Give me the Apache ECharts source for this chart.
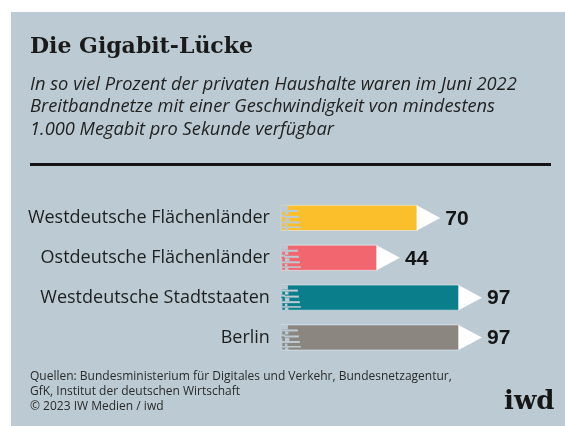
<!DOCTYPE html>
<html>
<head>
<meta charset="utf-8">
<script src="https://cdn.jsdelivr.net/npm/echarts@6/dist/echarts.min.js"></script>
<style>
  html, body { margin: 0; padding: 0; background: #ffffff; }
  #chart { width: 565px; height: 426px; }
</style>
</head>
<body>
<div id="chart"></div>
<script>
// Gigabit coverage of private households, June 2022 (percent)
const categories = [
  'Westdeutsche Flächenländer',
  'Ostdeutsche Flächenländer',
  'Westdeutsche Stadtstaaten',
  'Berlin'
];
const values = [70, 44, 97, 97];
const barColors = ['#fbbf2c', '#f1666f', '#0b7e8c', '#8b8680'];

const titleText = 'Die Gigabit-Lücke';
const subtitleLines = [
  'In so viel Prozent der privaten Haushalte waren im Juni 2022',
  'Breitbandnetze mit einer Geschwindigkeit von mindestens',
  '1.000 Megabit pro Sekunde verfügbar'
];
const sourceLines = [
  'Quellen: Bundesministerium für Digitales und Verkehr, Bundesnetzagentur,',
  'GfK, Institut der deutschen Wirtschaft',
  '© 2023 IW Medien / iwd'
];

const PANEL = '#bccbd3';
const X_MIN = -33;
const X_MAX = 100;

const chart = echarts.init(document.getElementById('chart'), null, { renderer: 'canvas' });

// Pencil-shaped bar: solid body, white arrow tip, speed lines at the tail
function renderPencil(params, api) {
  const idx = api.value(0);
  const val = api.value(1);
  const tip = api.coord([val, idx]);
  const tail = api.coord([X_MIN, idx]);
  const band = api.size([0, 1])[1];
  const h = band * 0.63;
  const y0 = tip[1] - h / 2;
  const arrowW = 23;
  const bodyEnd = tip[0] - arrowW;
  const x0 = tail[0];
  const color = barColors[idx];
  const u = h / 25;

  const children = [
    {
      type: 'rect',
      shape: { x: x0, y: y0, width: bodyEnd - x0, height: h },
      style: { fill: color, stroke: 'rgba(235,242,245,0.55)', lineWidth: 1 }
    },
    {
      type: 'polygon',
      shape: { points: [[bodyEnd - 0.5, y0], [tip[0], tip[1]], [bodyEnd - 0.5, y0 + h]] },
      style: { fill: '#ffffff' }
    }
  ];
  // background-coloured cuts forming the speed lines at the tail
  const cuts = [
    [0, 0, 7, 4.5],
    [0, 4.5, 17, 2],
    [0, 6.5, 1.5, 3],
    [4.5, 6.5, 3, 3],
    [0, 9.5, 4, 2],
    [4, 10.5, 14, 2],
    [0, 13, 1.5, 3],
    [4.5, 13, 4, 3],
    [0, 16, 19, 2],
    [0, 18, 1.5, 3],
    [4.5, 18.5, 2, 2.5],
    [0, 21, 20, 1.5],
    [0, 22.5, 1.5, 2.5],
    [4.5, 22.5, 3, 2.5]
  ];
  cuts.forEach(function (c) {
    children.push({
      type: 'rect',
      shape: { x: x0 + c[0] - 0.5, y: y0 + c[1] * u, width: c[2] + 0.5, height: c[3] * u },
      style: { fill: PANEL }
    });
  });
  children.push({
    type: 'text',
    style: {
      text: String(val),
      x: tip[0] + 5,
      y: tip[1] + 1,
      verticalAlign: 'middle',
      align: 'left',
      fill: '#151515',
      font: 'bold 21px "Liberation Sans", Arial, sans-serif'
    }
  });
  return { type: 'group', children: children };
}

const graphics = [
  { type: 'rect', shape: { x: 11, y: 12, width: 565, height: 426 }, style: { fill: PANEL }, z: -10 },
  {
    type: 'text', left: 30, top: 36,
    style: { text: titleText, fill: '#1a1a1a', font: 'bold 22px "DejaVu Serif", serif' }
  },
  {
    type: 'rect', shape: { x: 30, y: 163, width: 521, height: 3 }, style: { fill: '#141414' }
  },
  {
    type: 'text', left: 504, top: 389,
    style: { text: 'iwd', fill: '#161616', font: 'bold 26px "DejaVu Serif", serif' }
  }
];
subtitleLines.forEach(function (line, i) {
  graphics.push({
    type: 'text', left: 30, top: 75.5 + i * 22.5,
    style: { text: line, fill: '#222222', font: 'italic 18.3px "Open Sans", sans-serif' }
  });
});
sourceLines.forEach(function (line, i) {
  graphics.push({
    type: 'text', left: 30, top: 371 + i * 14.8,
    style: { text: line, fill: '#2a2a2a', font: '12px "Open Sans", sans-serif' }
  });
});

chart.setOption({
  backgroundColor: '#ffffff',
  animation: false,
  graphic: graphics,
  grid: { left: 280.9, right: 78.4, top: 198, bottom: 68.6, containLabel: false },
  xAxis: {
    type: 'value', min: X_MIN, max: X_MAX,
    show: false
  },
  yAxis: {
    type: 'category',
    data: categories,
    inverse: true,
    axisLine: { show: false },
    axisTick: { show: false },
    axisLabel: {
      margin: 11,
      color: '#1e1e1e',
      fontSize: 18,
      fontFamily: '"Open Sans", sans-serif'
    }
  },
  series: [{
    type: 'custom',
    clip: false,
    renderItem: renderPencil,
    encode: { x: 1, y: 0 },
    data: values.map(function (v, i) { return [i, v]; })
  }]
});
</script>
</body>
</html>
